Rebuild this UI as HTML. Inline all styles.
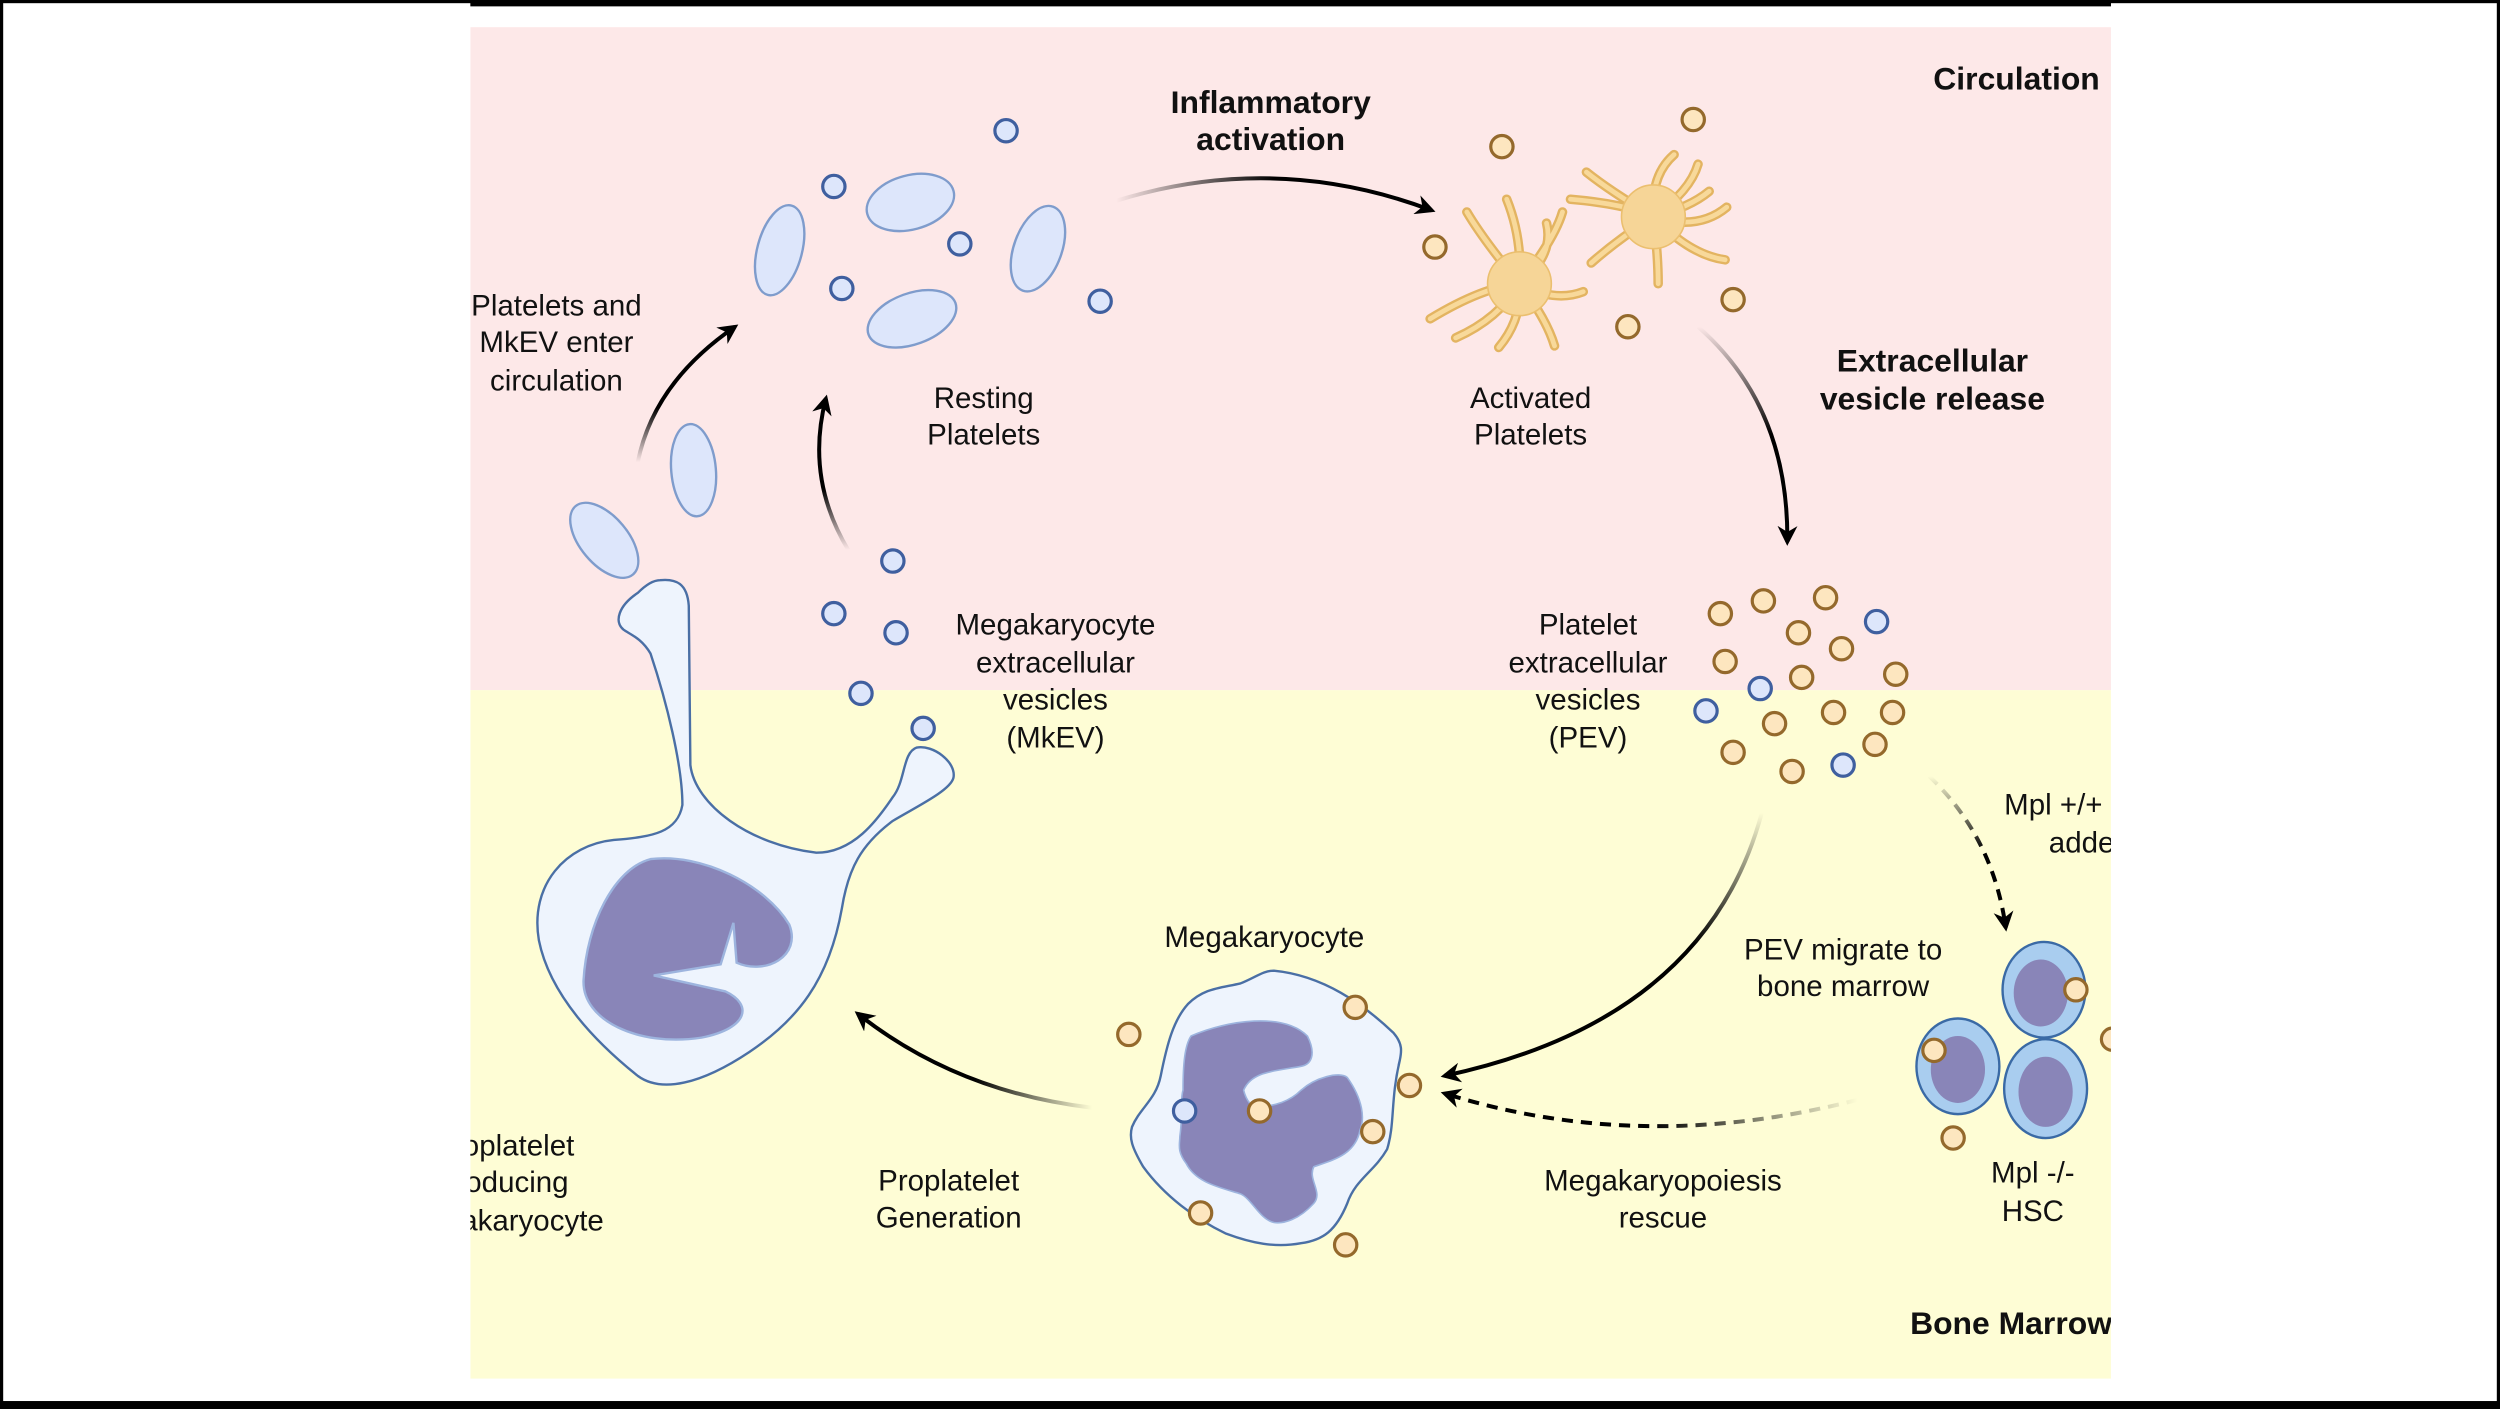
<!DOCTYPE html>
<html><head><meta charset="utf-8"><style>
html,body{margin:0;padding:0;background:#fff;}
svg{display:block;}
text{font-family:"Liberation Sans",Arial,sans-serif;font-size:18.5px;fill:#111;}
.b{font-weight:bold;font-size:20px;}
</style></head><body>
<svg width="2500" height="1409" viewBox="0 0 1568 884" preserveAspectRatio="none" xmlns="http://www.w3.org/2000/svg">
<defs>
<clipPath id="pc"><rect x="295" y="17" width="1029" height="848"/></clipPath>
<marker id="ah" viewBox="0 0 10 10" refX="8" refY="5" markerWidth="5" markerHeight="5" orient="auto"><path d="M0,0 L10,5 L0,10 L3,5 Z" fill="#000"/></marker>
<linearGradient id="g1" x1="0" y1="0" x2="1" y2="0"><stop offset="0" stop-color="#000" stop-opacity="0"/><stop offset="0.5" stop-color="#000"/></linearGradient>
<linearGradient id="g2" x1="0" y1="0" x2="0" y2="1"><stop offset="0" stop-color="#000" stop-opacity="0"/><stop offset="0.5" stop-color="#000"/></linearGradient>
<linearGradient id="g3" x1="1" y1="0" x2="0" y2="0"><stop offset="0" stop-color="#000" stop-opacity="0"/><stop offset="0.5" stop-color="#000"/></linearGradient>
<linearGradient id="g4" x1="0" y1="1" x2="0" y2="0"><stop offset="0" stop-color="#000" stop-opacity="0"/><stop offset="0.4" stop-color="#000"/></linearGradient>
</defs>
<rect x="1" y="1" width="1566" height="882" fill="none" stroke="#000" stroke-width="2"/>
<rect x="295" y="0" width="1029" height="4" fill="#000"/>
<rect x="0" y="879" width="1568" height="5" fill="#000"/>
<g clip-path="url(#pc)">
<rect x="295" y="17" width="1029" height="416" fill="#fde8e8"/>
<rect x="295" y="433" width="1029" height="432" fill="#fefdd5"/>

<g fill="none" stroke-width="2.5">
<path d="M700,126 Q800,95 898,132" stroke="url(#g1)" marker-end="url(#ah)"/>
<path d="M1065,205 Q1122,255 1121,340" stroke="url(#g2)" marker-end="url(#ah)"/>
<path d="M1105,510 Q1070,640 906,675" stroke="url(#g2)" marker-end="url(#ah)"/>
<path d="M1210,487 Q1250,525 1258,582" stroke="url(#g2)" stroke-dasharray="7,5" marker-end="url(#ah)"/>
<path d="M1165,690 Q1030,725 906,686" stroke="url(#g3)" stroke-dasharray="7,5" marker-end="url(#ah)"/>
<path d="M685,695 Q600,685 538,636" stroke="url(#g3)" marker-end="url(#ah)"/>
<path d="M400,290 Q410,240 461,205" stroke="url(#g4)" marker-end="url(#ah)"/>
<path d="M532,345 Q505,300 518,250" stroke="url(#g4)" marker-end="url(#ah)"/>
</g>

<g fill="#dde6fb" stroke="#7f9ccc" stroke-width="1.5">
<ellipse cx="489" cy="157" rx="14" ry="29" transform="rotate(15 489 157)"/>
<ellipse cx="571" cy="127" rx="28" ry="17" transform="rotate(-15 571 127)"/>
<ellipse cx="651" cy="156" rx="15" ry="28" transform="rotate(20 651 156)"/>
<ellipse cx="572" cy="200" rx="29" ry="16" transform="rotate(-20 572 200)"/>
<ellipse cx="435" cy="295" rx="14" ry="29" transform="rotate(-5 435 295)"/>
<ellipse cx="379" cy="339" rx="15" ry="28" transform="rotate(-40 379 339)"/>
</g>

<g fill="none" stroke-linecap="round">
<g stroke="#e3b461" stroke-width="6">
<path d="M953,178 Q930,150 920,133 M953,178 Q955,150 945,125 M953,178 Q975,160 970,140 M953,178 Q975,150 980,133 M953,178 Q930,180 897,200 M953,178 Q975,190 993,183 M953,178 Q940,200 913,212 M953,178 Q955,200 940,218 M953,178 Q970,200 975,217"/>
<path d="M1037,136 Q1035,110 1050,97 M1037,136 Q1010,120 995,108 M1037,136 Q1060,120 1065,103 M1037,136 Q1060,130 1072,120 M1037,136 Q1020,128 985,125 M1037,136 Q1065,145 1083,130 M1037,136 Q1015,150 998,165 M1037,136 Q1040,160 1040,178 M1037,136 Q1060,160 1082,163"/>
</g>
<g stroke="#f8d99a" stroke-width="3">
<path d="M953,178 Q930,150 920,133 M953,178 Q955,150 945,125 M953,178 Q975,160 970,140 M953,178 Q975,150 980,133 M953,178 Q930,180 897,200 M953,178 Q975,190 993,183 M953,178 Q940,200 913,212 M953,178 Q955,200 940,218 M953,178 Q970,200 975,217"/>
<path d="M1037,136 Q1035,110 1050,97 M1037,136 Q1010,120 995,108 M1037,136 Q1060,120 1065,103 M1037,136 Q1060,130 1072,120 M1037,136 Q1020,128 985,125 M1037,136 Q1065,145 1083,130 M1037,136 Q1015,150 998,165 M1037,136 Q1040,160 1040,178 M1037,136 Q1060,160 1082,163"/>
</g>
</g>
<circle cx="953" cy="178" r="20" fill="#f6d597" stroke="#ebbf6f" stroke-width="1"/>
<circle cx="1037" cy="136" r="20" fill="#f6d597" stroke="#ebbf6f" stroke-width="1"/>

<path d="M414,364 C424,363 431,366 432,380 L433,480 C436,505 470,530 512,535 C535,535 550,515 560,500 C568,490 566,472 575,469 C585,467 600,478 598,488 C596,496 575,506 560,515 C540,530 532,545 528,570 C520,615 500,640 470,660 C440,680 415,686 400,675 C375,655 345,625 338,590 C332,555 355,530 385,527 C410,525 425,522 428,505 C428,480 418,440 408,410 C402,400 395,398 391,395 C385,390 388,380 400,372 C405,367 410,364 414,364 Z" fill="#eef4fd" stroke="#4a6fa5" stroke-width="1.5"/>
<path d="M408,539 C440,535 480,555 495,580 C503,600 480,612 462,604 L460,579 L452,605 L410,612 L455,622 C472,630 470,645 440,651 C400,657 365,640 366,615 C368,580 385,545 408,539 Z" fill="#8985b8" stroke="#9db4de" stroke-width="1.5"/>

<path d="M799,609 C830,612 855,630 874,648 C880,655 879,660 878,665 C872,690 875,705 870,721 C862,735 850,740 845,755 C838,772 830,778 816,780 C800,783 785,780 769,774 C750,765 730,750 717,732 C710,720 708,714 710,707 C715,695 725,690 728,675 C732,655 736,640 745,630 C755,620 765,620 778,617 C788,613 792,609 799,609 Z" fill="#eef4fd" stroke="#4a6fa5" stroke-width="1.5"/>
<path d="M747,650 C770,640 805,635 820,650 C826,662 822,668 816,669 C800,672 785,672 780,684 C782,692 786,694 786,694 C800,695 810,690 816,684 C825,676 840,672 845,676 C855,690 856,702 853,709 C850,725 835,728 824,732 C820,740 830,748 824,755 C815,765 805,768 799,767 C790,765 785,752 778,749 C765,745 750,742 744,730 C738,722 740,718 740,713 C742,700 740,690 742,684 C742,668 743,656 747,650 Z" fill="#8985b8" stroke="#9db4de" stroke-width="1"/>

<g fill="#a9cdef" stroke="#3a6aa5" stroke-width="1.5">
<ellipse cx="1282" cy="621" rx="26" ry="30"/>
<ellipse cx="1228" cy="669" rx="26" ry="30"/>
<ellipse cx="1283" cy="683" rx="26" ry="31"/>
</g>
<g fill="#8985b8">
<ellipse cx="1280" cy="623" rx="17" ry="21"/>
<ellipse cx="1228" cy="671" rx="17" ry="21"/>
<ellipse cx="1283" cy="685" rx="17" ry="22"/>
</g>

<g fill="#dde6fb" stroke="#3f5f9f" stroke-width="2">
<circle cx="631" cy="82" r="7"/><circle cx="523" cy="117" r="7"/><circle cx="602" cy="153" r="7"/><circle cx="528" cy="181" r="7"/><circle cx="690" cy="189" r="7"/>
<circle cx="560" cy="352" r="7"/><circle cx="523" cy="385" r="7"/><circle cx="562" cy="397" r="7"/><circle cx="540" cy="435" r="7"/><circle cx="579" cy="457" r="7"/>
<circle cx="1177" cy="390" r="7"/><circle cx="1104" cy="432" r="7"/><circle cx="1070" cy="446" r="7"/><circle cx="1156" cy="480" r="7"/><circle cx="743" cy="697" r="7"/>
</g>
<g fill="#fde6bf" stroke="#94692c" stroke-width="2">
<circle cx="942" cy="92" r="7"/><circle cx="1062" cy="75" r="7"/><circle cx="900" cy="155" r="7"/><circle cx="1021" cy="205" r="7"/><circle cx="1087" cy="188" r="7"/>
<circle cx="1079" cy="385" r="7"/><circle cx="1106" cy="377" r="7"/><circle cx="1145" cy="375" r="7"/><circle cx="1128" cy="397" r="7"/><circle cx="1155" cy="407" r="7"/><circle cx="1082" cy="415" r="7"/><circle cx="1130" cy="425" r="7"/><circle cx="1189" cy="423" r="7"/><circle cx="1150" cy="447" r="7"/><circle cx="1187" cy="447" r="7"/><circle cx="1113" cy="454" r="7"/><circle cx="1176" cy="467" r="7"/><circle cx="1087" cy="472" r="7"/><circle cx="1124" cy="484" r="7"/>
<circle cx="708" cy="649" r="7"/><circle cx="850" cy="632" r="7"/><circle cx="884" cy="681" r="7"/><circle cx="861" cy="710" r="7"/><circle cx="790" cy="697" r="7"/><circle cx="753" cy="761" r="7"/><circle cx="844" cy="781" r="7"/>
<circle cx="1302" cy="621" r="7"/><circle cx="1213" cy="659" r="7"/><circle cx="1225" cy="714" r="7"/><circle cx="1325" cy="652" r="7"/>
</g>

<g text-anchor="middle">
<text class="b" x="797" y="71">Inflammatory</text><text class="b" x="797" y="94">activation</text>
<text class="b" x="1212" y="233">Extracellular</text><text class="b" x="1212" y="257">vesicle release</text>
<text x="349" y="198">Platelets and</text><text x="349" y="221">MkEV enter</text><text x="349" y="245">circulation</text>
<text x="617" y="256">Resting</text><text x="617" y="279">Platelets</text>
<text x="960" y="256">Activated</text><text x="960" y="279">Platelets</text>
<text x="662" y="398">Megakaryocyte</text><text x="662" y="422">extracellular</text><text x="662" y="445">vesicles</text><text x="662" y="469">(MkEV)</text>
<text x="996" y="398">Platelet</text><text x="996" y="422">extracellular</text><text x="996" y="445">vesicles</text><text x="996" y="469">(PEV)</text>
<text x="1156" y="602">PEV migrate to</text><text x="1156" y="625">bone marrow</text>
<text x="793" y="594">Megakaryocyte</text>
<text x="595" y="747">Proplatelet</text><text x="595" y="770">Generation</text>
<text x="1043" y="747">Megakaryopoiesis</text><text x="1043" y="770">rescue</text>
<text x="1275" y="742">Mpl -/-</text><text x="1275" y="766">HSC</text>
<text x="316" y="725">Proplatelet</text><text x="316" y="748">producing</text><text x="316" y="772">Megakaryocyte</text>
</g>
<text class="b" x="1317" y="56" text-anchor="end">Circulation</text>
<text x="1257" y="511">Mpl +/+  HSC</text><text x="1285" y="535">added</text>
<text class="b" x="1198" y="837">Bone Marrow</text>
</g>
</svg>
</body></html>
